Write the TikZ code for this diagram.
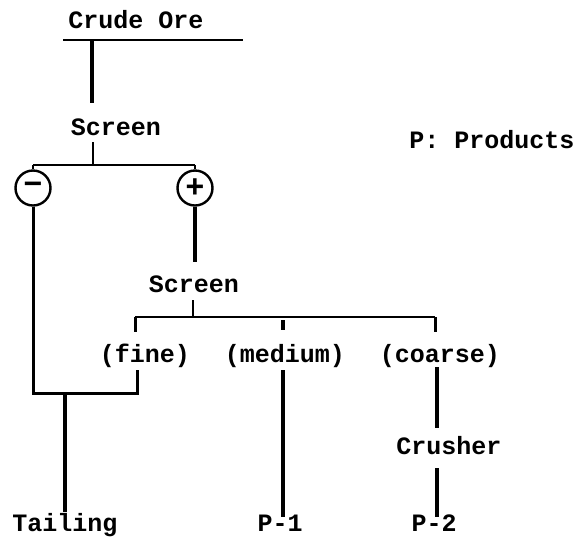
\documentclass[tikz,border=0pt]{standalone}
\usepackage{fontspec}
\setmainfont{Liberation Mono}
\begin{document}
\begin{tikzpicture}[x=1pt,y=-1pt,
  lbl/.style={font=\fontsize{25}{25}\selectfont\bfseries, inner sep=0pt, anchor=base},
  sign/.style={draw, circle, line width=2.4pt, minimum size=35pt, inner sep=0pt,
    font=\fontsize{32}{32}\selectfont\bfseries},
  heavy/.style={line width=3.6pt},
  light/.style={line width=2pt},
  boxline/.style={line width=3pt, line join=miter}]
\useasboundingbox (0,0) rectangle (586,547);
% text nodes
\node[lbl] (crude) at (136,28) {Crude Ore};
\node[lbl] (scr1) at (116,135) {Screen};
\node[lbl] (legend) at (492,148) {P: Products};
\node[sign] (minus) at (33,188) {−};
\node[sign] (plus) at (195,188) {+};
\node[lbl] (scr2) at (194,292) {Screen};
\node[lbl] (fine) at (145,362) {(fine)};
\node[lbl] (medium) at (285,362) {(medium)};
\node[lbl] (coarse) at (440,362) {(coarse)};
\node[lbl] (crusher) at (449,454) {Crusher};
\node[lbl] (tail) at (65,531) {Tailing};
\node[lbl] (p1) at (280,531) {P-1};
\node[lbl] (p2) at (434,531) {P-2};
% junction coordinates
\coordinate (feedL) at (63,40);
\coordinate (feedR) at (243,40);
\coordinate (feedA) at (92,40);
\coordinate (feedB) at (92,103);
\coordinate (s1a) at (93,142);
\coordinate (s1b) at (93,165);
\coordinate (sp1L) at (33,165);
\coordinate (sp1R) at (195,165);
\coordinate (boxBL) at (33,393);
\coordinate (boxBR) at (137,393);
\coordinate (boxTR) at (137,370);
\coordinate (tailA) at (65,393);
\coordinate (tailB) at (65,512);
\coordinate (plusB) at (195,262);
\coordinate (s2a) at (193,300);
\coordinate (s2b) at (193,317);
\coordinate (sp2L) at (135,317);
\coordinate (sp2R) at (435,317);
\coordinate (tkF) at (135,332);
\coordinate (tkMa) at (283,320);
\coordinate (tkMb) at (283,330);
\coordinate (tkC) at (435,332);
\coordinate (medA) at (283,370);
\coordinate (medB) at (283,517);
\coordinate (coA) at (437,367);
\coordinate (coB) at (437,428);
\coordinate (crA) at (437,468);
\coordinate (crB) at (437,517);
% connectors
\draw[light] (feedL) -- (feedR);
\draw[heavy] (feedA) -- (feedB);
\draw[light] (s1a) -- (s1b);
\draw[light] (sp1L) -- (sp1R);
\draw[light] (sp1L) -- (minus.north);
\draw[light] (sp1R) -- (plus.north);
\draw[boxline] (minus.south) -- (boxBL) -- (boxBR) -- (boxTR);
\draw[heavy] (tailA) -- (tailB);
\draw[heavy] (plus.south) -- (plusB);
\draw[light] (s2a) -- (s2b);
\draw[light] (sp2L) -- (sp2R);
\draw[boxline] (sp2L) -- (tkF);
\draw[heavy] (tkMa) -- (tkMb);
\draw[boxline] (sp2R) -- (tkC);
\draw[heavy] (medA) -- (medB);
\draw[heavy] (coA) -- (coB);
\draw[heavy] (crA) -- (crB);
\end{tikzpicture}
\end{document}
